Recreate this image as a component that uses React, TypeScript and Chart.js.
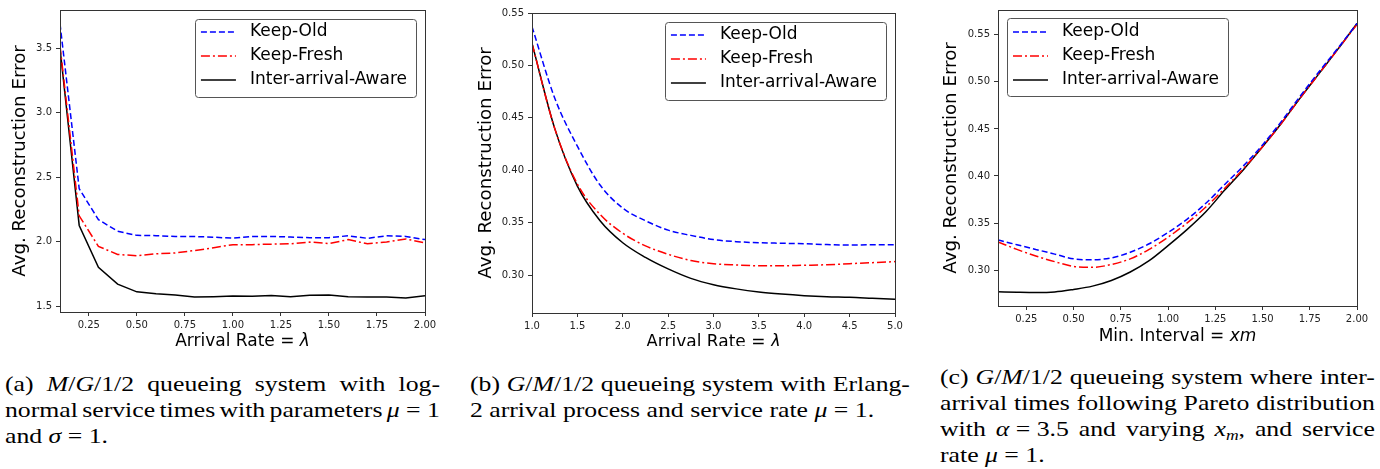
import React, { useEffect, useRef } from "react";
import { Chart, registerables } from "chart.js";

Chart.register(...registerables);

// ---------- shared ----------
const SERIES_NAMES = ["Keep-Old", "Keep-Fresh", "Inter-arrival-Aware"];
const SERIES_COLORS = ["#0000ff", "#ff0000", "#000000"];
const SERIES_DASH = [[6, 3], [9, 3, 2, 3], []];
const FONT = '"DejaVu Sans", sans-serif';
const Y_TITLE = "Avg. Reconstruction Error";

// ---------- panel (a) ----------
const A_X = [0.1, 0.2, 0.3, 0.4, 0.5, 0.6, 0.7, 0.8, 0.9, 1.0, 1.1, 1.2, 1.3, 1.4, 1.5, 1.6, 1.7, 1.8, 1.9, 2.0];
const A_KEEP_OLD = [3.69, 2.41, 2.17, 2.08, 2.048, 2.046, 2.039, 2.039, 2.034, 2.026, 2.04, 2.04, 2.035, 2.03, 2.03, 2.045, 2.025, 2.045, 2.04, 2.015];
const A_KEEP_FRESH = [3.52, 2.2, 1.963, 1.9, 1.89, 1.905, 1.912, 1.93, 1.952, 1.976, 1.976, 1.98, 1.983, 1.996, 1.985, 2.015, 1.983, 1.996, 2.02, 1.99];
const A_AWARE = [3.5, 2.125, 1.8, 1.67, 1.61, 1.595, 1.585, 1.57, 1.572, 1.577, 1.576, 1.582, 1.572, 1.584, 1.586, 1.572, 1.569, 1.569, 1.563, 1.58];
const A_X_TICKS = [0.25, 0.5, 0.75, 1.0, 1.25, 1.5, 1.75, 2.0];
const A_Y_TICKS = [1.5, 2.0, 2.5, 3.0, 3.5];
const A_X_RANGE = [0.1, 2.0];
const A_Y_RANGE = [1.4535, 3.7965];

// ---------- panel (b) ----------
const B_X = [1.0, 1.25, 1.5, 1.75, 2.0, 2.25, 2.5, 2.75, 3.0, 3.25, 3.5, 3.75, 4.0, 4.25, 4.5, 4.75, 5.0];
const B_KEEP_OLD = [0.537, 0.469, 0.423, 0.386, 0.364, 0.352, 0.343, 0.338, 0.334, 0.332, 0.331, 0.3305, 0.33, 0.3292, 0.3288, 0.329, 0.329];
const B_KEEP_FRESH = [0.521, 0.44, 0.387, 0.358, 0.34, 0.328, 0.32, 0.314, 0.311, 0.3098, 0.309, 0.309, 0.3095, 0.31, 0.311, 0.312, 0.313];
const B_AWARE = [0.521, 0.44, 0.385, 0.352, 0.331, 0.317, 0.306, 0.297, 0.291, 0.287, 0.284, 0.282, 0.2805, 0.2795, 0.279, 0.278, 0.277];
const B_X_TICKS = [1.0, 1.5, 2.0, 2.5, 3.0, 3.5, 4.0, 4.5, 5.0];
const B_Y_TICKS = [0.3, 0.35, 0.4, 0.45, 0.5, 0.55];
const B_X_RANGE = [1.0, 5.0];
const B_Y_RANGE = [0.264, 0.55];

// ---------- panel (c) ----------
const C_X = [0.1, 0.2, 0.3, 0.4, 0.5, 0.6, 0.7, 0.8, 0.9, 1.0, 1.1, 1.2, 1.3, 1.4, 1.5, 1.6, 1.7, 1.8, 1.9, 2.0];
const C_KEEP_OLD = [0.332, 0.327, 0.322, 0.317, 0.312, 0.311, 0.313, 0.319, 0.328, 0.34, 0.354, 0.371, 0.391, 0.411, 0.433, 0.458, 0.485, 0.511, 0.536, 0.562];
const C_KEEP_FRESH = [0.33, 0.322, 0.315, 0.309, 0.304, 0.303, 0.306, 0.312, 0.322, 0.335, 0.35, 0.367, 0.387, 0.408, 0.431, 0.456, 0.483, 0.509, 0.535, 0.561];
const C_AWARE = [0.277, 0.2765, 0.2762, 0.2768, 0.2795, 0.283, 0.289, 0.298, 0.31, 0.326, 0.343, 0.362, 0.385, 0.407, 0.431, 0.456, 0.483, 0.509, 0.535, 0.562];
const C_X_TICKS = [0.25, 0.5, 0.75, 1.0, 1.25, 1.5, 1.75, 2.0];
const C_Y_TICKS = [0.3, 0.35, 0.4, 0.45, 0.5, 0.55];
const C_X_RANGE = [0.1, 2.0];
const C_Y_RANGE = [0.2619, 0.5763];

// ---------- plugins ----------
const framePlugin = {
  id: "frameBox",
  afterDatasetsDraw(chart: any) {
    const { ctx, chartArea } = chart;
    const l = Math.round(chartArea.left) + 0.5;
    const t = Math.round(chartArea.top) + 0.5;
    const r = Math.round(chartArea.right) + 0.5;
    const b = Math.round(chartArea.bottom) + 0.5;
    ctx.save();
    ctx.strokeStyle = "#333";
    ctx.lineWidth = 1;
    ctx.setLineDash([]);
    ctx.strokeRect(l, t, r - l, b - t);
    ctx.restore();
  },
};

const innerLegendPlugin = {
  id: "innerLegend",
  afterDraw(chart: any, _args: any, opts: any) {
    const { ctx, chartArea } = chart;
    ctx.save();
    ctx.font = `17px ${FONT}`;
    const ds = chart.data.datasets;
    const textW = Math.max(...ds.map((d: any) => ctx.measureText(d.label).width));
    const padL = 6, lineLen = 35, gap = 14, padR = 9;
    const w = padL + lineLen + gap + textW + padR;
    const h = 78;
    const x = opts.align === "left" ? chartArea.left + opts.offsetX : chartArea.right - opts.offsetX - w;
    const y = chartArea.top + opts.offsetY;
    ctx.beginPath();
    (ctx as any).roundRect(Math.round(x) + 0.5, Math.round(y) + 0.5, Math.round(w), h, 3);
    ctx.fillStyle = "rgba(255,255,255,0.85)";
    ctx.fill();
    ctx.strokeStyle = "#555";
    ctx.lineWidth = 1;
    ctx.stroke();
    ds.forEach((d: any, i: number) => {
      const cy = y + opts.firstRow + i * 24;
      ctx.beginPath();
      ctx.strokeStyle = d.borderColor;
      ctx.lineWidth = d.borderWidth;
      ctx.setLineDash(d.borderDash || []);
      ctx.moveTo(x + padL, cy);
      ctx.lineTo(x + padL + lineLen, cy);
      ctx.stroke();
      ctx.setLineDash([]);
      ctx.fillStyle = "#000";
      ctx.textBaseline = "middle";
      ctx.textAlign = "left";
      ctx.fillText(d.label, x + padL + lineLen + gap, cy);
    });
    ctx.restore();
  },
};

const xTitlePlugin = {
  id: "xTitle",
  afterDraw(chart: any, _args: any, opts: any) {
    const { ctx, chartArea } = chart;
    const segs: { text: string; italic?: boolean }[] = opts.segments;
    ctx.save();
    const fontOf = (s: any) => `${s.italic ? "italic " : ""}17px ${FONT}`;
    let total = 0;
    segs.forEach((s) => {
      ctx.font = fontOf(s);
      total += ctx.measureText(s.text).width;
    });
    let x = (chartArea.left + chartArea.right) / 2 - total / 2;
    ctx.fillStyle = "#000";
    ctx.textBaseline = "alphabetic";
    ctx.textAlign = "left";
    segs.forEach((s) => {
      ctx.font = fontOf(s);
      ctx.fillText(s.text, x, opts.baseline);
      x += ctx.measureText(s.text).width;
    });
    ctx.restore();
  },
};

// ---------- config builder ----------
type Panel = {
  xs: number[];
  series: number[][];
  xTicks: number[];
  yTicks: number[];
  xRange: number[];
  yRange: number[];
  xDecimals: number;
  yDecimals: number;
  smooth: boolean;
  width: number;
  height: number;
  yAxisW: number;
  padTop: number;
  padRight: number;
  bottomY: number;
  yTitlePad: number;
  xTitle: { text: string; italic?: boolean }[];
  xTitleBaseline: number;
  legend: { align: string; offsetX: number; offsetY: number; firstRow: number };
};

function makeConfig(p: Panel): any {
  const datasets = p.series.map((ys, si) => ({
    label: SERIES_NAMES[si],
    data: p.xs.map((x, i) => ({ x, y: ys[i] })),
    borderColor: SERIES_COLORS[si],
    borderWidth: 1.5,
    borderDash: SERIES_DASH[si],
    pointRadius: 0,
    fill: false,
    tension: 0,
    cubicInterpolationMode: p.smooth ? "monotone" : "default",
  }));
  const tickFont = { family: FONT, size: 10 };
  const grid = { drawOnChartArea: false, drawTicks: true, tickLength: 4, color: "#333", lineWidth: 1 };
  return {
    type: "line",
    data: { datasets },
    options: {
      animation: false,
      responsive: false,
      maintainAspectRatio: false,
      events: [],
      layout: { padding: { left: 0, top: p.padTop, right: p.padRight, bottom: 0 } },
      plugins: {
        legend: { display: false },
        tooltip: { enabled: false },
        innerLegend: p.legend,
        xTitle: { segments: p.xTitle, baseline: p.xTitleBaseline },
      },
      scales: {
        x: {
          type: "linear",
          min: p.xRange[0],
          max: p.xRange[1],
          afterBuildTicks: (s: any) => {
            s.ticks = p.xTicks.map((v) => ({ value: v }));
          },
          afterFit: (s: any) => {
            s.height = p.height - p.bottomY;
          },
          ticks: {
            font: tickFont,
            color: "#222",
            padding: 3,
            maxRotation: 0,
            autoSkip: false,
            callback: (v: number) => Number(v).toFixed(p.xDecimals),
          },
          grid,
          border: { display: false },
        },
        y: {
          type: "linear",
          min: p.yRange[0],
          max: p.yRange[1],
          afterBuildTicks: (s: any) => {
            s.ticks = p.yTicks.map((v) => ({ value: v }));
          },
          afterFit: (s: any) => {
            s.width = p.yAxisW;
          },
          ticks: {
            font: tickFont,
            color: "#222",
            padding: 4,
            autoSkip: false,
            callback: (v: number) => Number(v).toFixed(p.yDecimals),
          },
          grid,
          border: { display: false },
          title: {
            display: true,
            text: Y_TITLE,
            color: "#000",
            font: { family: FONT, size: 18.2 },
            padding: { top: p.yTitlePad, bottom: 0 },
          },
        },
      },
    },
    plugins: [framePlugin, innerLegendPlugin, xTitlePlugin],
  };
}

const PANEL_A: Panel = {
  xs: A_X,
  series: [A_KEEP_OLD, A_KEEP_FRESH, A_AWARE],
  xTicks: A_X_TICKS,
  yTicks: A_Y_TICKS,
  xRange: A_X_RANGE,
  yRange: A_Y_RANGE,
  xDecimals: 2,
  yDecimals: 1,
  smooth: false,
  width: 445,
  height: 346,
  yAxisW: 60,
  padTop: 10,
  padRight: 20,
  bottomY: 312,
  yTitlePad: 9,
  xTitle: [{ text: "Arrival Rate = " }, { text: "λ", italic: true }],
  xTitleBaseline: 346,
  legend: { align: "right", offsetX: 9, offsetY: 9, firstRow: 13 },
};

const PANEL_B: Panel = {
  xs: B_X,
  series: [B_KEEP_OLD, B_KEEP_FRESH, B_AWARE],
  xTicks: B_X_TICKS,
  yTicks: B_Y_TICKS,
  xRange: B_X_RANGE,
  yRange: B_Y_RANGE,
  xDecimals: 1,
  yDecimals: 2,
  smooth: true,
  width: 455,
  height: 346,
  yAxisW: 72,
  padTop: 13,
  padRight: 20,
  bottomY: 313,
  yTitlePad: 15,
  xTitle: [{ text: "Arrival Rate = " }, { text: "λ", italic: true }],
  xTitleBaseline: 347,
  legend: { align: "right", offsetX: 9, offsetY: 9, firstRow: 13 },
};

const PANEL_C: Panel = {
  xs: C_X,
  series: [C_KEEP_OLD, C_KEEP_FRESH, C_AWARE],
  xTicks: C_X_TICKS,
  yTicks: C_Y_TICKS,
  xRange: C_X_RANGE,
  yRange: C_Y_RANGE,
  xDecimals: 2,
  yDecimals: 2,
  smooth: true,
  width: 460,
  height: 346,
  yAxisW: 78,
  padTop: 10,
  padRight: 23,
  bottomY: 306,
  yTitlePad: 20,
  xTitle: [{ text: "Min. Interval = " }, { text: "xm", italic: true }],
  xTitleBaseline: 341,
  legend: { align: "left", offsetX: 9, offsetY: 8, firstRow: 14 },
};

function ChartPanel({ panel, left }: { panel: Panel; left: number }) {
  const ref = useRef<HTMLCanvasElement | null>(null);
  useEffect(() => {
    if (!ref.current) return;
    const chart = new Chart(ref.current, makeConfig(panel));
    return () => chart.destroy();
  }, [panel]);
  return (
    <canvas
      ref={ref}
      width={panel.width}
      height={panel.height}
      style={{ position: "absolute", left, top: 0, width: panel.width, height: panel.height }}
    />
  );
}

// ---------- captions ----------
const SERIF = '"Liberation Serif", "Times New Roman", serif';
const CAPTION_STRETCH = 1.17;

function Line({ words, justify }: { words: React.ReactNode[]; justify: boolean }) {
  if (justify) {
    return (
      <div style={{ display: "flex", justifyContent: "space-between", whiteSpace: "nowrap", height: 26 }}>
        {words.map((w, i) => (
          <span key={i}>{w}</span>
        ))}
      </div>
    );
  }
  return (
    <div style={{ whiteSpace: "nowrap", height: 26 }}>
      {words.map((w, i) => (
        <React.Fragment key={i}>
          {i > 0 ? " " : ""}
          {w}
        </React.Fragment>
      ))}
    </div>
  );
}

function Caption({ lines, left, top, width }: { lines: React.ReactNode[][]; left: number; top: number; width: number }) {
  return (
    <div
      style={{
        position: "absolute",
        left,
        top,
        width: width / CAPTION_STRETCH,
        transform: `scaleX(${CAPTION_STRETCH})`,
        transformOrigin: "0 0",
        fontFamily: SERIF,
        fontSize: 22,
        lineHeight: "26px",
        color: "#000",
      }}
    >
      {lines.map((ws, i) => (
        <Line key={i} words={ws} justify={i < lines.length - 1} />
      ))}
    </div>
  );
}

const GM = (
  <>
    <i>G</i>/<i>M</i>/1/2
  </>
);
const MG = (
  <>
    <i>M</i>/<i>G</i>/1/2
  </>
);
const EQ = "\u00a0=\u00a0";

const CAPTION_A: React.ReactNode[][] = [
  ["(a)", MG, "queueing", "system", "with", "log-"],
  ["normal", "service", "times", "with", "parameters", <><i>μ</i>{EQ + "1"}</>],
  ["and", <><i>σ</i>{EQ + "1."}</>],
];
const CAPTION_B: React.ReactNode[][] = [
  ["(b)", GM, "queueing", "system", "with", "Erlang-"],
  ["2", "arrival", "process", "and", "service", "rate", <><i>μ</i>{EQ + "1."}</>],
];
const CAPTION_C: React.ReactNode[][] = [
  ["(c)", GM, "queueing", "system", "where", "inter-"],
  ["arrival", "times", "following", "Pareto", "distribution"],
  ["with", <><i>α</i>{EQ + "3.5"}</>, "and", "varying", <><i>x</i><sub style={{ fontSize: 15, verticalAlign: "-4px", lineHeight: 0 }}><i>m</i></sub>,</>, "and", "service"],
  ["rate", <><i>μ</i>{EQ + "1."}</>],
];

export default function App() {
  return (
    <div style={{ position: "absolute", left: 0, top: 0, width: 1380, height: 469, background: "#fff", overflow: "hidden" }}>
      <ChartPanel panel={PANEL_A} left={0} />
      <ChartPanel panel={PANEL_B} left={460} />
      <ChartPanel panel={PANEL_C} left={920} />
      <Caption lines={CAPTION_A} left={5} top={371} width={435} />
      <Caption lines={CAPTION_B} left={470} top={371} width={440} />
      <Caption lines={CAPTION_C} left={940} top={364} width={435} />
    </div>
  );
}
